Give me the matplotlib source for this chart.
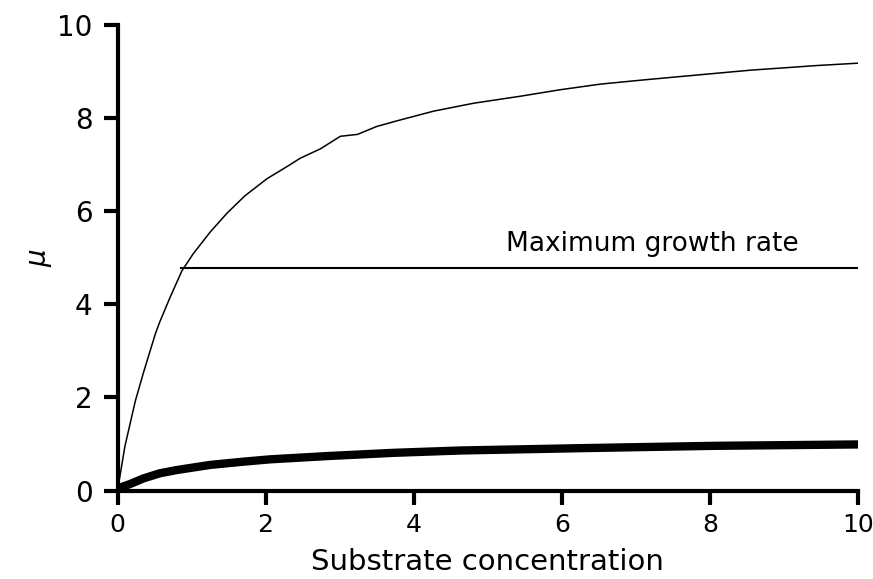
import numpy as np
import matplotlib.pyplot as plt

# growth rate (thin curve)
s_fast = [0, 0.10, 0.24, 0.35, 0.51, 0.57, 0.71, 0.87, 1.02, 1.25, 1.48, 1.72, 2.02,
          2.29, 2.47, 2.74, 2.89, 3.01, 3.24, 3.50, 3.77, 4.27, 4.81, 5.44, 5.98,
          6.52, 7.10, 7.65, 8.55, 9.45, 10.0]
mu_fast = [0, 0.95, 1.92, 2.53, 3.36, 3.62, 4.15, 4.72, 5.08, 5.55, 5.96, 6.33, 6.70,
           6.96, 7.14, 7.34, 7.49, 7.61, 7.65, 7.82, 7.94, 8.15, 8.32, 8.47, 8.61,
           8.73, 8.82, 8.90, 9.03, 9.13, 9.18]

# slow growth (thick curve)
s_slow = [0, 0.03, 0.17, 0.35, 0.57, 0.80, 1.25, 1.70, 2.06, 2.83, 3.73, 4.63,
          6.25, 8.05, 10.0]
mu_slow = [0, 0.06, 0.14, 0.26, 0.37, 0.44, 0.55, 0.62, 0.67, 0.74, 0.81, 0.86,
           0.91, 0.96, 0.99]

mu_max = 4.79
s_line = [0.86, 10.0]

fig = plt.figure(figsize=(8.73, 5.79), dpi=100)
ax = fig.add_axes([0.1346, 0.1528, 0.8482, 0.804])

ax.plot(s_fast, mu_fast, color='black', lw=1.1, solid_capstyle='butt')
ax.plot(s_slow, mu_slow, color='black', lw=6, solid_capstyle='butt')
ax.plot(s_line, [mu_max, mu_max], color='black', lw=1.5)
ax.text(7.22, 5.29, 'Maximum growth rate', fontsize=19, ha='center', va='center')

ax.set_xlim(0, 10)
ax.set_ylim(0, 10)
ax.set_xticks(np.arange(0, 11, 2))
ax.set_yticks(np.arange(0, 11, 2))
for side in ['top', 'right']:
    ax.spines[side].set_visible(False)
for side in ['left', 'bottom']:
    ax.spines[side].set_linewidth(3)
ax.tick_params(axis='both', direction='out', length=10, width=3)
ax.tick_params(axis='y', labelsize=20, pad=8)
ax.tick_params(axis='x', labelsize=18, pad=6)
for lab in ax.get_xticklabels():
    lab.set_family(['Liberation Sans Narrow', 'DejaVu Sans'])

ax.set_xlabel('Substrate concentration', fontsize=21, labelpad=8,
              family=['Liberation Sans Narrow', 'DejaVu Sans'])
ax.set_ylabel(r'$\mu$', fontsize=20, labelpad=2)

fig.savefig('out.png', dpi=100)
